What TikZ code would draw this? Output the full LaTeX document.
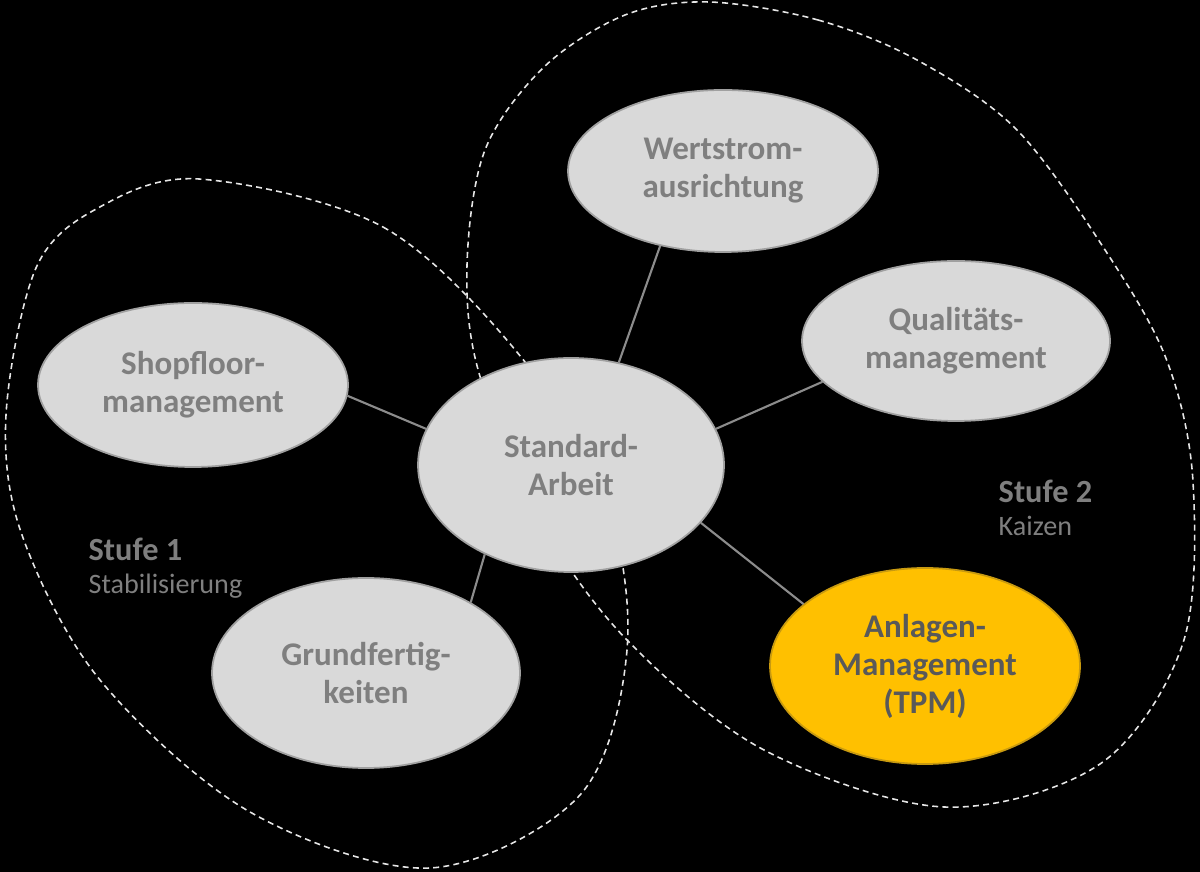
\documentclass[tikz,border=0pt]{standalone}
\usepackage{fontspec}
\setmainfont{Carlito}
\usepackage{xcolor}
\usepackage{tikz}
\usetikzlibrary{shapes.geometric}

\definecolor{bubblefill}{HTML}{D9D9D9}
\definecolor{bubbleline}{HTML}{A0A0A0}
\definecolor{bubbletext}{HTML}{7F7F7F}
\definecolor{tpmfill}{HTML}{FFC000}
\definecolor{tpmline}{HTML}{C89A10}
\definecolor{tpmtext}{HTML}{595959}
\definecolor{linkgray}{HTML}{8C8C8C}
\definecolor{blobline}{HTML}{E6E6E6}

\begin{document}
\begin{tikzpicture}[
    x=0.1mm, y=-0.1mm,
    bubble/.style={ellipse, draw=bubbleline, line width=0.5pt, fill=bubblefill,
        text=bubbletext, inner sep=0pt, align=center,
        font=\fontsize{9.4}{10.8}\selectfont\bfseries},
    tpmbubble/.style={bubble, draw=tpmline, fill=tpmfill, text=tpmtext},
    link/.style={draw=linkgray, line width=0.6pt},
    blob/.style={draw=blobline, line width=0.45pt, dash pattern=on 1.7pt off 1.2pt},
    stage/.style={text=bubbletext, align=left, anchor=north west, inner sep=0pt,
        font=\fontsize{8}{9.6}\selectfont}
]
\fill[black] (0,0) rectangle (1200,872);
\useasboundingbox (0,0) rectangle (1200,872);

% Stufe 1 / Stufe 2
\draw[blob] plot[smooth cycle, tension=0.55] coordinates {
    (199,179) (383,227) (521,357) (606,500) (627,650) (580,795) (430,868)
    (250,812) (100,680) (22,535) (6,415) (36,268) (98,208)};
\draw[blob] plot[smooth cycle, tension=0.55] coordinates {
    (709,2) (818,20) (917,60) (1017,130) (1107,253) (1167,361) (1193,482)
    (1183,643) (1100,764) (944,807) (764,750) (627,640) (540,520) (479,373)
    (467,265) (485,150) (544,67) (625,15)};

\node[bubble, minimum width=30.6mm, minimum height=21.4mm] (std) at (571,465) {Standard-\\Arbeit};
\node[bubble, minimum width=31mm, minimum height=16.4mm] (shop) at (193,385) {Shopfloor-\\management};
\node[bubble, minimum width=31mm, minimum height=16.2mm] (wert) at (723,171) {Wertstrom-\\ausrichtung};
\node[bubble, minimum width=30.8mm, minimum height=16mm] (qual) at (956,341) {Qualitäts-\\management};
\node[bubble, minimum width=30.8mm, minimum height=19mm] (grund) at (366,673) {Grundfertig-\\keiten};
\node[tpmbubble, minimum width=31mm, minimum height=19.6mm] (tpm) at (925,666) {Anlagen-\\Management\\(TPM)};

\path[link]
    (shop.-4) edge (std.166)
    (wert.230) edge (std.65)
    (qual.197) edge (std.14)
    (tpm.153) edge (std.-24)
    (grund.34) edge (std.226);

\node[stage] (stufe1) at (88,537) {{\fontsize{9.2}{10}\selectfont\bfseries Stufe 1}\\Stabilisierung};
\node[stage] (stufe2) at (998,479) {{\fontsize{9.2}{10}\selectfont\bfseries Stufe 2}\\Kaizen};
\end{tikzpicture}
\end{document}
